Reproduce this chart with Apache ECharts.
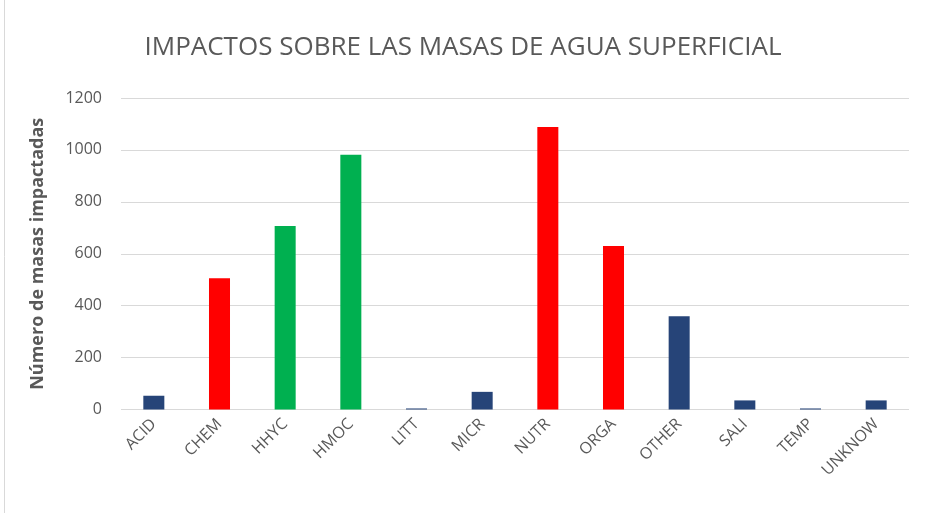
<!DOCTYPE html>
<html>
    <head>
        <meta charset="UTF-8">
        <title>Impactos</title>
        <script src="https://cdn.jsdelivr.net/npm/echarts@6/dist/echarts.min.js"></script>
    </head>
    <body style="margin:0;">
        <div id="chart" style="width:926px; height:513px;"></div>
        <script>
            var categories = ['ACID', 'CHEM', 'HHYC', 'HMOC', 'LITT', 'MICR', 'NUTR', 'ORGA', 'OTHER', 'SALI', 'TEMP', 'UNKNOW'];
            var values = [53, 506, 707, 981, 4, 68, 1088, 630, 359, 35, 4, 35];
            // grupo de cada barra: 0 azul, 1 rojo, 2 verde
            var groups = [0, 1, 2, 2, 0, 0, 1, 1, 0, 0, 0, 0];
            var groupColors = ['#264478', '#ff0000', '#00b050'];
            var yTicks = [0, 200, 400, 600, 800, 1000, 1200];

            var chart = echarts.init(document.getElementById('chart'));
            var barData = values.map(function (v, i) {
                return { value: v, itemStyle: { color: groupColors[groups[i]] } };
            });
            var option = {
                backgroundColor: '#fff',
                animation: false,
                title: {
                    text: 'IMPACTOS SOBRE LAS MASAS DE AGUA SUPERFICIAL',
                    left: 'center',
                    top: 30,
                    textStyle: {
                        fontFamily: 'Open Sans',
                        fontWeight: 'normal',
                        fontSize: 26,
                        color: '#595959'
                    }
                },
                graphic: [{
                    type: 'line',
                    shape: { x1: 4.5, y1: 0, x2: 4.5, y2: 513 },
                    style: { stroke: '#d9d9d9', lineWidth: 1 }
                }],
                grid: { left: 121, right: 17, top: 98, bottom: 103.5 },
                xAxis: {
                    type: 'category',
                    data: categories,
                    axisLine: { show: false },
                    axisTick: { show: false },
                    axisLabel: {
                        rotate: 45,
                        margin: 12,
                        interval: 0,
                        fontFamily: 'Open Sans',
                        fontSize: 16,
                        color: '#595959'
                    }
                },
                yAxis: {
                    type: 'value',
                    min: yTicks[0],
                    max: yTicks[yTicks.length - 1],
                    interval: 200,
                    name: 'Número de masas impactadas',
                    nameLocation: 'middle',
                    nameGap: 74,
                    nameTextStyle: {
                        fontFamily: 'Open Sans',
                        fontWeight: 'bold',
                        fontSize: 18,
                        color: '#595959'
                    },
                    axisLabel: {
                        margin: 19,
                        fontFamily: 'Open Sans',
                        fontSize: 16,
                        color: '#595959',
                        formatter: function (v) { return String(v); }
                    },
                    splitLine: { lineStyle: { color: '#d9d9d9', width: 1 } }
                },
                series: [{
                    type: 'bar',
                    data: barData,
                    barWidth: '32%'
                }]
            };
            chart.setOption(option);
        </script>
    </body>
</html>
